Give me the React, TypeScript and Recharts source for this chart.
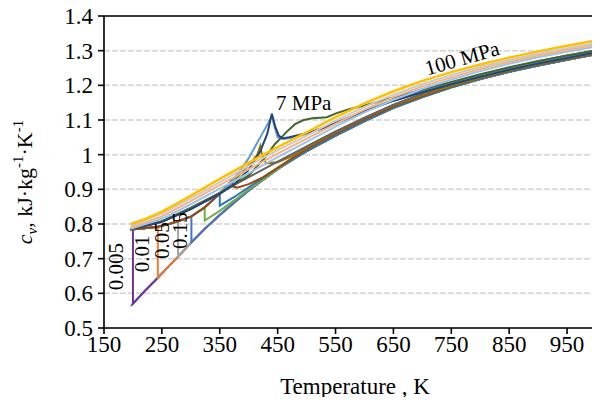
import React from "react";
import { LineChart, Line, XAxis, YAxis, CartesianGrid, ReferenceLine, ReferenceDot } from "recharts";

const FONT = "Liberation Serif, Times New Roman, serif";
const AXIS_FS = 23;
const ANNOT_FS = 21;

const xTicks = [150, 250, 350, 450, 550, 650, 750, 850, 950];
const yTicks = [0.5, 0.6, 0.7, 0.8, 0.9, 1.0, 1.1, 1.2, 1.3, 1.4];
const yTickLabels = ["0.5", "0.6", "0.7", "0.8", "0.9", "1", "1.1", "1.2", "1.3", "1.4"];
const xMinorTicks = Array.from({ length: 86 }, (_, i) => 150 + i * 10);
const yMinorTicks = Array.from({ length: 46 }, (_, i) => Math.round((0.5 + i * 0.02) * 100) / 100);

// shared branches [T (K), cv]
const liquidLine = [
  [196, 0.784], [220, 0.788], [243, 0.792], [260, 0.799], [278, 0.808],
  [301, 0.822], [324, 0.848], [350, 0.887],
];
const gasLine = [
  [196, 0.563], [200, 0.57], [220, 0.606], [243, 0.645], [260, 0.675], [278, 0.706],
  [301, 0.747], [324, 0.786], [350, 0.826], [375, 0.862], [400, 0.897], [425, 0.928],
  [450, 0.958], [475, 0.985], [500, 1.01], [550, 1.055], [600, 1.097], [650, 1.135],
  [700, 1.166], [750, 1.194], [800, 1.218], [850, 1.239], [900, 1.257], [950, 1.274],
  [1000, 1.29],
];

const before = (arr: number[][], t: number) => arr.filter((p) => p[0] < t);
const after = (arr: number[][], t: number) => arr.filter((p) => p[0] > t);

const p0001 = gasLine;
const p0005 = [...before(liquidLine, 200), [200, 0.787], [200, 0.57], ...after(gasLine, 200)];
const p001 = [...before(liquidLine, 243), [243, 0.792], [243, 0.645], ...after(gasLine, 243)];
const p005 = [...before(liquidLine, 278), [278, 0.808], [278, 0.706], ...after(gasLine, 278)];
const p015 = [...before(liquidLine, 301), [301, 0.822], [301, 0.747], ...after(gasLine, 301)];
const p05 = [...before(liquidLine, 324), [324, 0.848], [324, 0.81], [350, 0.838], [375, 0.868], [400, 0.9], ...after(gasLine, 400)];
const p1 = [...before(liquidLine, 350), [350, 0.887], [350, 0.853], [375, 0.878], [400, 0.906], [425, 0.934], [450, 0.962], ...after(gasLine, 450)];
const p2 = [
  ...before(liquidLine, 372), [372, 0.928], [372, 0.908], [380, 0.905], [400, 0.915], [425, 0.935],
  [450, 0.962], [475, 0.99], [500, 1.016], [550, 1.061], [600, 1.102], [650, 1.139], [700, 1.169],
  [750, 1.197], [800, 1.221], [850, 1.242], [900, 1.26], [950, 1.276], [1000, 1.292],
];
const p3 = [
  [196, 0.784], [250, 0.806], [300, 0.843], [350, 0.89], [375, 0.925], [400, 0.97], [415, 1.0],
  [420, 1.025], [423, 1.0], [430, 0.975], [450, 0.978], [475, 0.996], [500, 1.02], [550, 1.065],
  [600, 1.106], [650, 1.142], [700, 1.172], [750, 1.199], [800, 1.222], [850, 1.243], [900, 1.261],
  [950, 1.277], [1000, 1.293],
];
const p5 = [
  [196, 0.785], [250, 0.807], [300, 0.844], [350, 0.887], [365, 0.91], [385, 0.954], [400, 0.99],
  [414, 1.032], [425, 1.065], [434, 1.092], [440, 1.112], [444, 1.085], [450, 1.05], [460, 1.045],
  [480, 1.05], [500, 1.06], [550, 1.092], [600, 1.126], [650, 1.158], [700, 1.184], [750, 1.207],
  [800, 1.229], [850, 1.249], [900, 1.267], [950, 1.283], [1000, 1.297],
];
const p7 = [
  [196, 0.784], [250, 0.806], [300, 0.843], [350, 0.887], [375, 0.915], [399, 0.955], [420, 1.01],
  [432, 1.06], [440, 1.118], [446, 1.08], [452, 1.055], [458, 1.047], [470, 1.05], [500, 1.062],
  [530, 1.077], [560, 1.097], [600, 1.125], [650, 1.155], [700, 1.18], [750, 1.203], [800, 1.225],
  [850, 1.245], [900, 1.263], [950, 1.279], [1000, 1.295],
];
const p10 = [
  [196, 0.785], [250, 0.807], [300, 0.845], [350, 0.888], [400, 0.94], [430, 0.995], [445, 1.03],
  [455, 1.047], [465, 1.065], [480, 1.088], [495, 1.1], [510, 1.105], [535, 1.108], [552, 1.12],
  [575, 1.132], [600, 1.142], [650, 1.165], [700, 1.188], [750, 1.21], [800, 1.232], [850, 1.252],
  [900, 1.27], [950, 1.286], [1000, 1.3],
];
const p20 = [
  [196, 0.785], [250, 0.808], [300, 0.847], [350, 0.89], [400, 0.935], [450, 0.98], [500, 1.024],
  [550, 1.067], [600, 1.107], [650, 1.144], [700, 1.176], [750, 1.204], [800, 1.229], [850, 1.25],
  [900, 1.269], [950, 1.286], [1000, 1.301],
];
const p30 = [
  [196, 0.786], [250, 0.815], [300, 0.857], [350, 0.902], [400, 0.947], [450, 0.993], [500, 1.037],
  [550, 1.081], [600, 1.122], [650, 1.158], [700, 1.19], [750, 1.217], [800, 1.241], [850, 1.262],
  [900, 1.281], [950, 1.297], [1000, 1.312],
];
const p50 = [
  [196, 0.789], [250, 0.822], [300, 0.866], [350, 0.912], [400, 0.958], [450, 1.003], [500, 1.046],
  [550, 1.089], [600, 1.13], [650, 1.166], [700, 1.197], [750, 1.223], [800, 1.247], [850, 1.268],
  [900, 1.286], [950, 1.302], [1000, 1.317],
];
const p70 = [
  [196, 0.795], [250, 0.83], [300, 0.874], [350, 0.921], [400, 0.968], [450, 1.013], [500, 1.055],
  [550, 1.098], [600, 1.138], [650, 1.173], [700, 1.204], [750, 1.23], [800, 1.253], [850, 1.273],
  [900, 1.291], [950, 1.307], [1000, 1.322],
];
const p100 = [
  [196, 0.8], [225, 0.817], [250, 0.836], [275, 0.858], [300, 0.882], [350, 0.93], [400, 0.977],
  [450, 1.022], [500, 1.064], [550, 1.108], [600, 1.148], [650, 1.183], [700, 1.213], [750, 1.238],
  [800, 1.26], [850, 1.28], [900, 1.298], [950, 1.314], [1000, 1.329],
];

const seriesList: { name: string; pts: number[][]; color: string; w?: number }[] = [
  { name: "0.001 MPa", pts: p0001, color: "#5B9BD5" },
  { name: "0.005 MPa", pts: p0005, color: "#7030A0" },
  { name: "0.01 MPa", pts: p001, color: "#ED7D31" },
  { name: "0.05 MPa", pts: p005, color: "#A5A5A5" },
  { name: "0.15 MPa", pts: p015, color: "#4472C4" },
  { name: "0.5 MPa", pts: p05, color: "#70AD47" },
  { name: "1 MPa", pts: p1, color: "#2E75B6" },
  { name: "2 MPa", pts: p2, color: "#9E480E" },
  { name: "3 MPa", pts: p3, color: "#997300" },
  { name: "20 MPa", pts: p20, color: "#636363" },
  { name: "5 MPa", pts: p5, color: "#5B9BD5" },
  { name: "10 MPa", pts: p10, color: "#43682B" },
  { name: "7 MPa", pts: p7, color: "#264478" },
  { name: "30 MPa", pts: p30, color: "#9DC3E6" },
  { name: "50 MPa", pts: p50, color: "#F4B183" },
  { name: "70 MPa", pts: p70, color: "#C9C9C9" },
  { name: "100 MPa", pts: p100, color: "#FFC000", w: 2.5 },
];

const annotations: { text: string; T: number; cv: number; angle: number; anchor: "start" | "middle" }[] = [
  { text: "0.005", T: 171.6, cv: 0.677, angle: -90, anchor: "middle" },
  { text: "0.01", T: 215.7, cv: 0.714, angle: -90, anchor: "middle" },
  { text: "0.05", T: 250.2, cv: 0.752, angle: -90, anchor: "middle" },
  { text: "0.15", T: 282, cv: 0.781, angle: -90, anchor: "middle" },
  { text: "7 MPa", T: 447.2, cv: 1.128, angle: 0, anchor: "start" },
  { text: "100 MPa", T: 768.5, cv: 1.278, angle: -16, anchor: "middle" },
];

const toPts = (a: number[][]) => a.map(([T, cv]) => ({ T, cv }));

const makeShape = (a: (typeof annotations)[number]) => (props: any) => {
  const { cx, cy } = props;
  return (
    <text
      x={cx}
      y={cy}
      transform={a.angle ? `rotate(${a.angle} ${cx} ${cy})` : undefined}
      textAnchor={a.anchor}
      dominantBaseline={a.anchor === "middle" ? "central" : "alphabetic"}
      fontSize={ANNOT_FS}
      fontFamily={FONT}
      fill="#000"
    >
      {a.text}
    </text>
  );
};

const YLabel = (props: any) => {
  const vb = props.viewBox || { x: 0, y: 0, height: 0 };
  const x = vb.x + 32;
  const y = vb.y + vb.height / 2 + 10;
  return (
    <text x={x} y={y} transform={`rotate(-90 ${x} ${y})`} textAnchor="middle" fontSize={22} fontFamily={FONT} fill="#000">
      <tspan fontStyle="italic">c</tspan>
      <tspan fontStyle="italic" fontSize={15} dy={5}>v</tspan>
      <tspan dy={-5}>, kJ·kg</tspan>
      <tspan fontSize={15} dy={-9}>-1</tspan>
      <tspan dy={9}>·K</tspan>
      <tspan fontSize={15} dy={-9}>-1</tspan>
    </text>
  );
};

const XLabel = (props: any) => {
  const vb = props.viewBox || { x: 0, y: 0, width: 0 };
  return (
    <text x={vb.x + vb.width / 2 + 5} y={vb.y + 66} textAnchor="middle" fontSize={AXIS_FS} fontFamily={FONT} fill="#000">
      Temperature , K
    </text>
  );
};

export default function App() {
  return (
    <div style={{ margin: -8, width: 600, height: 405 }}>
      <LineChart width={600} height={405} margin={{ top: 16, right: 4, left: 0, bottom: 0 }}>
        <CartesianGrid xAxisId="minor" yAxisId="minor" stroke="#EAEAEA" strokeWidth={2} />
        <CartesianGrid vertical={false} stroke="#D4D4D4" strokeWidth={1.5} strokeDasharray="6 2" />
        <XAxis
          dataKey="T"
          type="number"
          domain={[150, 1000]}
          ticks={xTicks}
          interval={0}
          allowDataOverflow
          height={77}
          tickSize={6}
          tickMargin={2}
          stroke="#000"
          strokeWidth={1.6}
          tick={{ fontSize: AXIS_FS, fontFamily: FONT, fill: "#000" }}
          label={<XLabel />}
        />
        <XAxis
          xAxisId="minor"
          dataKey="T"
          type="number"
          domain={[150, 1000]}
          ticks={xMinorTicks}
          interval={0}
          allowDataOverflow
          mirror
          axisLine={false}
          tick={false}
          tickSize={4}
          stroke="#000"
          tickLine={{ stroke: "#000", strokeWidth: 1.2 }}
        />
        <YAxis
          type="number"
          domain={[0.5, 1.4]}
          ticks={yTicks}
          interval={0}
          allowDataOverflow
          width={104}
          tickSize={6}
          tickMargin={5}
          stroke="#000"
          strokeWidth={1.6}
          tickFormatter={(v: number) => yTickLabels[yTicks.indexOf(v)] ?? String(v)}
          tick={{ fontSize: AXIS_FS, fontFamily: FONT, fill: "#000" }}
          label={<YLabel />}
        />
        <YAxis
          yAxisId="minor"
          type="number"
          domain={[0.5, 1.4]}
          ticks={yMinorTicks}
          interval={0}
          allowDataOverflow
          mirror
          axisLine={false}
          tick={false}
          tickSize={5}
          stroke="#000"
          tickLine={{ stroke: "#000", strokeWidth: 1.2 }}
        />
        <ReferenceLine y={1.4} stroke="#000" strokeWidth={1.6} />
        {seriesList.map((s) => (
          <Line
            key={s.name}
            name={s.name}
            data={toPts(s.pts)}
            dataKey="cv"
            type="linear"
            stroke={s.color}
            strokeWidth={s.w ?? 2}
            dot={false}
            activeDot={false}
            isAnimationActive={false}
          />
        ))}
        {annotations.map((a) => (
          <ReferenceDot key={a.text} x={a.T} y={a.cv} r={1} shape={makeShape(a)} ifOverflow="visible" />
        ))}
      </LineChart>
    </div>
  );
}
